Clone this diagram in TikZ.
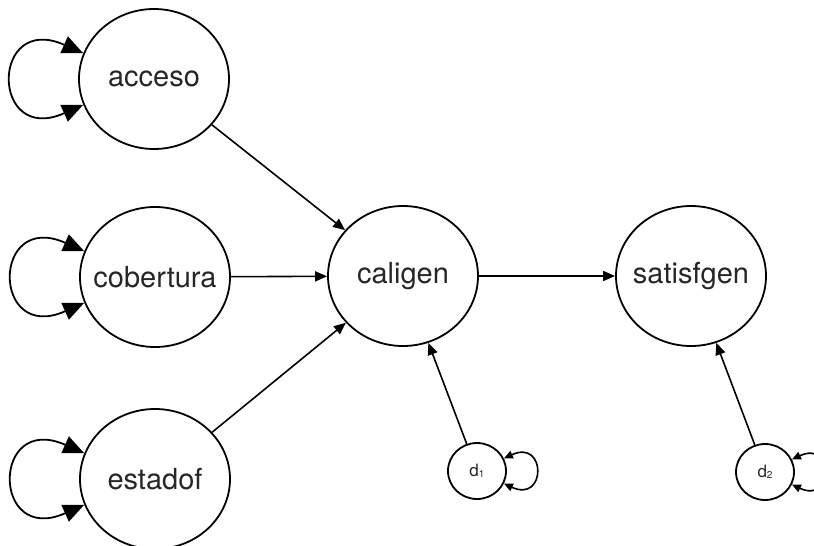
\documentclass[tikz,border=0pt]{standalone}
\usepackage{fontspec}
\setmainfont{TeX Gyre Heros}
\usetikzlibrary{shapes.geometric,arrows.meta}
\tikzset{
  big/.style={ellipse, draw, line width=1.8pt, minimum width=150pt, minimum height=140pt, inner sep=0pt,
    font=\fontsize{29}{30}\selectfont, text=black!85},
  small/.style={ellipse, draw, line width=1.8pt, minimum width=58pt, minimum height=56pt, inner sep=0pt,
    font=\fontsize{17}{18}\selectfont, text=black!85},
  edge/.style={line width=1.6pt, -{Triangle[length=12pt,width=10pt]}},
  bigloop/.style={line width=1.8pt, {Triangle[length=21pt,width=18pt]}-{Triangle[length=21pt,width=18pt]}},
  smallloop/.style={line width=1.6pt, {Triangle[length=9pt,width=8pt]}-{Triangle[length=9pt,width=8pt]}},
}
\newcommand{\lbl}[1]{\makebox[0pt]{#1}}
\newcommand{\subd}[1]{\lbl{d\raisebox{-0.1ex}{\fontsize{10}{10}\selectfont #1}}}
\begin{document}
\begin{tikzpicture}[x=1pt,y=-1pt]
\useasboundingbox (0,0) rectangle (814,546);
\clip (0,0) rectangle (814,546);
\node[big] (acceso) at (154,79) {\lbl{acceso}};
\node[big] (cobertura) at (155,277) {\lbl{cobertura}};
\node[big] (estadof) at (155,479) {\lbl{estadof}};
\node[big] (caligen) at (403,276) {\lbl{caligen}};
\node[big] (satisfgen) at (691,276) {\lbl{satisfgen}};
\node[small] (d1) at (477,471) {\subd{1}};
\node[small] (d2) at (765,472) {\subd{2}};

\draw[edge] (acceso) -- (caligen);
\draw[edge] (cobertura) -- (caligen);
\draw[edge] (estadof) -- (caligen);
\draw[edge] (caligen) -- (satisfgen);
\draw[edge] (d1) -- (caligen);
\draw[edge] (d2) -- (satisfgen);

\foreach \n in {acceso,cobertura,estadof}
  \draw[bigloop] (\n.160) .. controls +(204:102) and +(156:102) .. (\n.200);
\foreach \n in {d1,d2}
  \draw[smallloop] (\n.25) .. controls +(-25:47) and +(25:47) .. (\n.-25);
\end{tikzpicture}
\end{document}
